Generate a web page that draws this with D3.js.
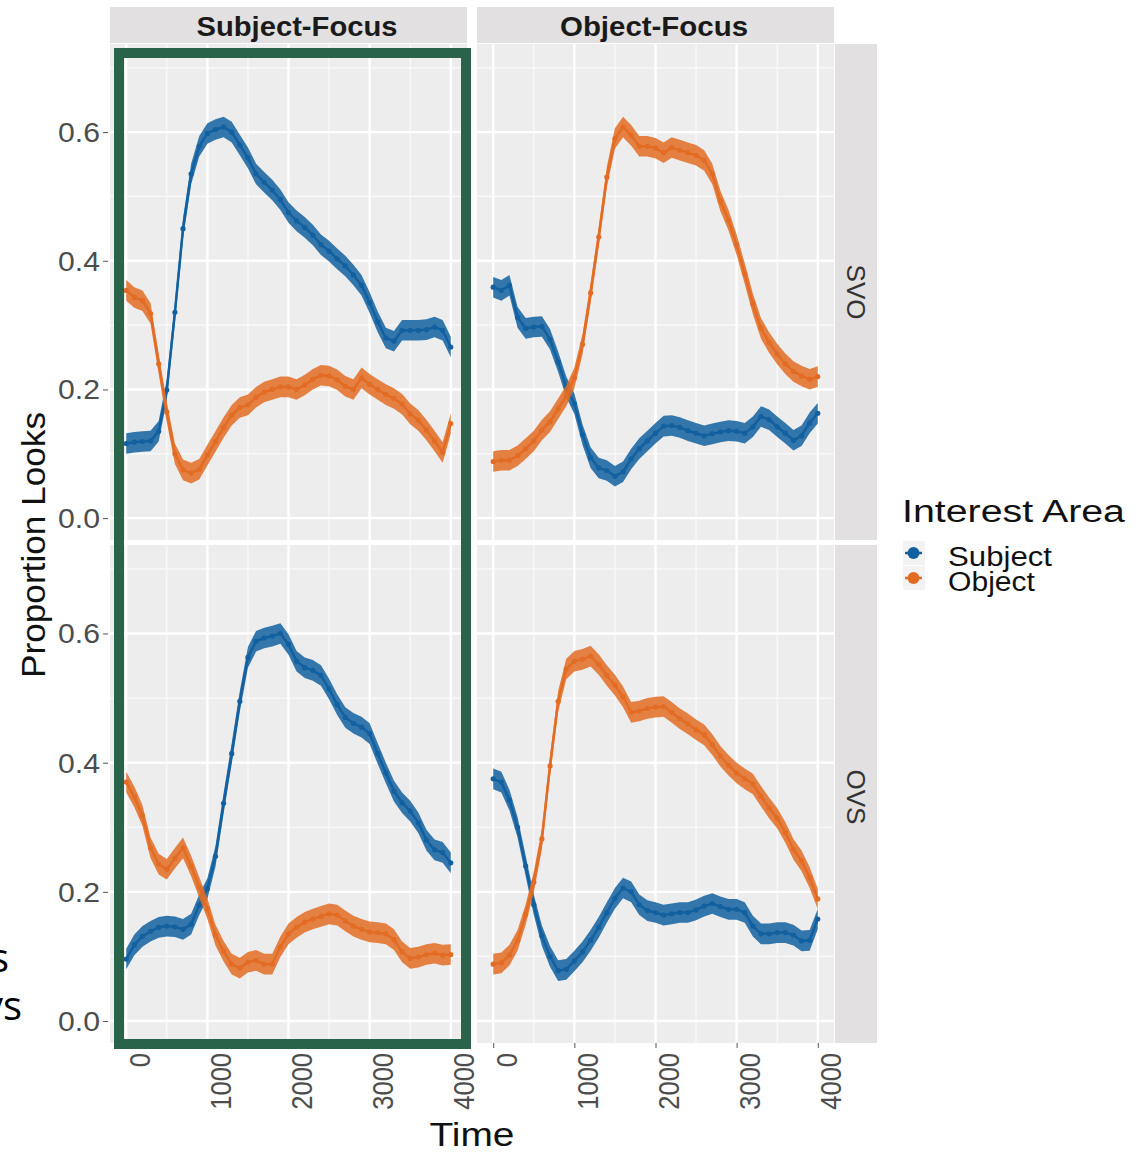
<!DOCTYPE html>
<html>
<head>
<meta charset="utf-8">
<script src="https://cdn.jsdelivr.net/npm/d3@7"></script>
<style>
  body { margin: 0; background: #fff; }
</style>
</head>
<body>
<div id="chart"></div>
<script>
// ---- data (proportion of looks every 100 ms) ----
const timeMs = [0, 100, 200, 300, 400, 500, 600, 700, 800, 900, 1000, 1100, 1200, 1300, 1400, 1500, 1600, 1700, 1800, 1900, 2000,
  2100, 2200, 2300, 2400, 2500, 2600, 2700, 2800, 2900, 3000, 3100, 3200, 3300, 3400, 3500, 3600, 3700, 3800, 3900, 4000];
const focusLevels = ["Subject-Focus", "Object-Focus"];
const orderLevels = ["SVO", "OVS"];
const areaLevels = ["Subject", "Object"];
const yTicks = [0, 0.2, 0.4, 0.6];
const xTicks = [0, 1000, 2000, 3000, 4000];
const yMinor = [0.1, 0.3, 0.5, 0.7];
const xMinor = [500, 1500, 2500, 3500];
const bandSE = 0.016;

const svoSubjFocusSubject = [0.116, 0.118, 0.119, 0.120, 0.135, 0.199, 0.320, 0.450, 0.535, 0.578, 0.598, 0.604, 0.608, 0.600, 0.580, 0.560, 0.535, 0.522, 0.510, 0.495, 0.475,
  0.462, 0.452, 0.440, 0.425, 0.415, 0.403, 0.392, 0.378, 0.362, 0.335, 0.305, 0.280, 0.275, 0.292, 0.292, 0.292, 0.293, 0.297, 0.292, 0.266];
const svoSubjFocusObject = [0.354, 0.343, 0.338, 0.318, 0.240, 0.165, 0.100, 0.075, 0.070, 0.076, 0.098, 0.119, 0.141, 0.160, 0.172, 0.176, 0.188, 0.196, 0.200, 0.204, 0.204,
  0.200, 0.207, 0.216, 0.222, 0.221, 0.215, 0.205, 0.200, 0.218, 0.208, 0.200, 0.192, 0.186, 0.177, 0.162, 0.152, 0.137, 0.120, 0.102, 0.147];
const svoObjFocusSubject = [0.359, 0.354, 0.362, 0.312, 0.295, 0.297, 0.298, 0.278, 0.243, 0.204, 0.178, 0.130, 0.094, 0.078, 0.074, 0.065, 0.072, 0.092, 0.108, 0.120, 0.132,
  0.143, 0.144, 0.141, 0.136, 0.132, 0.128, 0.131, 0.134, 0.136, 0.135, 0.132, 0.142, 0.158, 0.153, 0.142, 0.132, 0.121, 0.128, 0.148, 0.163];
const svoObjFocusObject = [0.088, 0.090, 0.090, 0.097, 0.108, 0.120, 0.137, 0.150, 0.170, 0.190, 0.218, 0.270, 0.350, 0.437, 0.530, 0.590, 0.608, 0.595, 0.578, 0.578, 0.575,
  0.568, 0.576, 0.572, 0.568, 0.564, 0.556, 0.535, 0.493, 0.463, 0.425, 0.380, 0.333, 0.295, 0.273, 0.255, 0.240, 0.228, 0.221, 0.216, 0.220];
const ovsSubjFocusSubject = [0.096, 0.118, 0.131, 0.139, 0.145, 0.147, 0.146, 0.142, 0.150, 0.180, 0.205, 0.255, 0.337, 0.414, 0.495, 0.563, 0.588, 0.593, 0.596, 0.600, 0.583,
  0.557, 0.547, 0.543, 0.535, 0.514, 0.490, 0.470, 0.461, 0.455, 0.445, 0.414, 0.384, 0.356, 0.338, 0.325, 0.307, 0.280, 0.265, 0.261, 0.245];
const ovsSubjFocusObject = [0.370, 0.347, 0.318, 0.268, 0.243, 0.235, 0.252, 0.268, 0.240, 0.207, 0.174, 0.133, 0.108, 0.088, 0.082, 0.091, 0.094, 0.088, 0.088, 0.115, 0.135,
  0.145, 0.153, 0.158, 0.162, 0.166, 0.164, 0.155, 0.147, 0.142, 0.138, 0.137, 0.135, 0.126, 0.107, 0.097, 0.099, 0.103, 0.105, 0.102, 0.103];
const ovsObjFocusSubject = [0.375, 0.370, 0.342, 0.300, 0.240, 0.180, 0.132, 0.100, 0.078, 0.080, 0.093, 0.107, 0.125, 0.145, 0.168, 0.190, 0.206, 0.200, 0.180, 0.171, 0.168,
  0.164, 0.166, 0.168, 0.168, 0.172, 0.178, 0.182, 0.177, 0.173, 0.173, 0.168, 0.147, 0.135, 0.135, 0.137, 0.137, 0.133, 0.124, 0.125, 0.158];
const ovsObjFocusObject = [0.088, 0.090, 0.102, 0.125, 0.165, 0.215, 0.282, 0.395, 0.495, 0.545, 0.557, 0.560, 0.565, 0.552, 0.535, 0.520, 0.502, 0.478, 0.480, 0.484, 0.486,
  0.487, 0.478, 0.468, 0.460, 0.451, 0.443, 0.428, 0.410, 0.396, 0.384, 0.375, 0.367, 0.348, 0.330, 0.314, 0.292, 0.266, 0.248, 0.222, 0.189];

const series = [
  { order: "SVO", focus: "Subject-Focus", area: "Subject", values: svoSubjFocusSubject },
  { order: "SVO", focus: "Subject-Focus", area: "Object", values: svoSubjFocusObject },
  { order: "SVO", focus: "Object-Focus", area: "Subject", values: svoObjFocusSubject },
  { order: "SVO", focus: "Object-Focus", area: "Object", values: svoObjFocusObject },
  { order: "OVS", focus: "Subject-Focus", area: "Subject", values: ovsSubjFocusSubject },
  { order: "OVS", focus: "Subject-Focus", area: "Object", values: ovsSubjFocusObject },
  { order: "OVS", focus: "Object-Focus", area: "Subject", values: ovsObjFocusSubject },
  { order: "OVS", focus: "Object-Focus", area: "Object", values: ovsObjFocusObject }
];

// ---- layout ----
const width = 1145;
const height = 1152;
const colLeft = [110, 477];
const panelW = 357;
const rowTop = [44, 545];
const rowBottom = [540, 1043];
const stripTop = 7;
const stripRight = 835;

const svg = d3.select("#chart").append("svg")
  .attr("width", width)
  .attr("height", height)
  .style("font-family", "'Liberation Sans', Arial, sans-serif");

const x = focusLevels.map((f, i) => d3.scaleLinear().domain([-200, 4200]).range([colLeft[i], colLeft[i] + panelW]));
const y = orderLevels.map((o, i) => d3.scaleLinear().domain([-0.034, 0.737]).range([rowBottom[i], rowTop[i]]));
const color = d3.scaleOrdinal().domain(areaLevels).range(["#12609f", "#e36c25"]);

// panels: background + grid
orderLevels.forEach((o, r) => {
  focusLevels.forEach((f, c) => {
    const g = svg.append("g");
    g.append("rect")
      .attr("x", colLeft[c])
      .attr("y", rowTop[r])
      .attr("width", panelW)
      .attr("height", rowBottom[r] - rowTop[r])
      .style("fill", "#ededed");

    g.selectAll(".ym").data(yMinor).enter().append("line")
      .attr("x1", colLeft[c]).attr("x2", colLeft[c] + panelW)
      .attr("y1", (d) => y[r](d)).attr("y2", (d) => y[r](d))
      .style("stroke", "#fafafa").style("stroke-width", 1.2);
    g.selectAll(".xm").data(xMinor).enter().append("line")
      .attr("y1", rowTop[r]).attr("y2", rowBottom[r])
      .attr("x1", (d) => x[c](d)).attr("x2", (d) => x[c](d))
      .style("stroke", "#fafafa").style("stroke-width", 1.2);
    g.selectAll(".yM").data(yTicks).enter().append("line")
      .attr("x1", colLeft[c]).attr("x2", colLeft[c] + panelW)
      .attr("y1", (d) => y[r](d)).attr("y2", (d) => y[r](d))
      .style("stroke", "#fff").style("stroke-width", 2.4);
    g.selectAll(".xM").data(xTicks).enter().append("line")
      .attr("y1", rowTop[r]).attr("y2", rowBottom[r])
      .attr("x1", (d) => x[c](d)).attr("x2", (d) => x[c](d))
      .style("stroke", "#fff").style("stroke-width", 2.4);
  });
});

// series: error band, line, points
series.forEach((s) => {
  const r = orderLevels.indexOf(s.order);
  const c = focusLevels.indexOf(s.focus);
  const pts = timeMs.map((t, i) => ({ t: t, v: s.values[i] }));
  const col = color(s.area);
  const g = svg.append("g");

  g.append("path")
    .datum(pts)
    .attr("d", d3.area()
      .x((d) => x[c](d.t))
      .y0((d) => y[r](d.v - bandSE))
      .y1((d) => y[r](d.v + bandSE)))
    .style("fill", col)
    .style("opacity", 0.85);

  g.append("path")
    .datum(pts)
    .attr("d", d3.line().x((d) => x[c](d.t)).y((d) => y[r](d.v)))
    .style("fill", "none")
    .style("stroke", col)
    .style("stroke-width", 2.5);

  g.selectAll("circle").data(pts).enter().append("circle")
    .attr("cx", (d) => x[c](d.t))
    .attr("cy", (d) => y[r](d.v))
    .attr("r", 2.6)
    .style("fill", col);
});

// strips
focusLevels.forEach((f, c) => {
  svg.append("rect")
    .attr("x", colLeft[c]).attr("y", stripTop)
    .attr("width", panelW).attr("height", rowTop[0] - stripTop - 1)
    .style("fill", "#e2e0e0");
});
const stripLabelX = [297, 654];
const stripLabelW = [201, 188];
focusLevels.forEach((f, c) => {
  svg.append("text")
    .attr("x", stripLabelX[c]).attr("y", 36)
    .attr("text-anchor", "middle")
    .attr("textLength", stripLabelW[c])
    .attr("lengthAdjust", "spacingAndGlyphs")
    .style("font-size", "27px").style("font-weight", "bold").style("fill", "#1a1a1a")
    .text(f);
});
const rowLabelY = [292, 797];
orderLevels.forEach((o, r) => {
  svg.append("rect")
    .attr("x", stripRight).attr("y", rowTop[r])
    .attr("width", 42).attr("height", rowBottom[r] - rowTop[r])
    .style("fill", "#e2e0e0");
  svg.append("text")
    .attr("transform", `translate(856,${rowLabelY[r]}) rotate(90)`)
    .attr("text-anchor", "middle")
    .attr("dy", "0.36em")
    .style("font-size", "26px").style("fill", "#333")
    .text(o);
});

// y axes
orderLevels.forEach((o, r) => {
  const ax = svg.append("g")
    .attr("transform", `translate(${colLeft[0] - 2},0)`)
    .call(d3.axisLeft(y[r]).tickValues(yTicks).tickSize(5).tickFormat(d3.format(".1f")));
  ax.select(".domain").remove();
  ax.selectAll(".tick line").style("stroke", "#555");
  ax.selectAll(".tick text")
    .attr("x", -8)
    .attr("dy", "0.35em")
    .attr("textLength", 42)
    .attr("lengthAdjust", "spacingAndGlyphs")
    .style("font-size", "27px")
    .style("font-family", "'Liberation Sans', Arial, sans-serif")
    .style("fill", "#4d4d4d");
});

// x axes
focusLevels.forEach((f, c) => {
  const ax = svg.append("g")
    .attr("transform", `translate(0,${rowBottom[1]})`)
    .call(d3.axisBottom(x[c]).tickValues(xTicks).tickSize(5).tickFormat(d3.format("d")));
  ax.select(".domain").remove();
  ax.selectAll(".tick line").style("stroke", "#555");
  ax.selectAll(".tick text")
    .attr("x", 0).attr("y", 0).attr("dy", 0)
    .attr("text-anchor", "end")
    .attr("transform", "translate(23,10) scale(1.19,1) rotate(-90)")
    .style("font-size", "25.5px")
    .style("font-family", "'Liberation Sans', Arial, sans-serif")
    .style("fill", "#4d4d4d");
});

// axis titles
svg.append("text")
  .attr("transform", "translate(45,545) rotate(-90)")
  .attr("text-anchor", "middle")
  .attr("textLength", 266)
  .attr("lengthAdjust", "spacingAndGlyphs")
  .style("font-size", "34px").style("fill", "#111")
  .text("Proportion Looks");
svg.append("text")
  .attr("x", 472).attr("y", 1146)
  .attr("text-anchor", "middle")
  .attr("textLength", 85)
  .attr("lengthAdjust", "spacingAndGlyphs")
  .style("font-size", "33px").style("fill", "#111")
  .text("Time");

// legend
svg.append("text")
  .attr("x", 902).attr("y", 522)
  .attr("textLength", 223)
  .attr("lengthAdjust", "spacingAndGlyphs")
  .style("font-size", "31px").style("fill", "#111")
  .text("Interest Area");
const keyY = [553, 578];
const keyLabelW = [104, 87];
areaLevels.forEach((a, i) => {
  svg.append("rect")
    .attr("x", 903).attr("y", keyY[i] - 12)
    .attr("width", 22).attr("height", 24)
    .style("fill", "#f3f3f3");
  svg.append("line")
    .attr("x1", 905).attr("x2", 922)
    .attr("y1", keyY[i]).attr("y2", keyY[i])
    .style("stroke", color(a)).style("stroke-width", 2.5);
  svg.append("circle")
    .attr("cx", 913.5).attr("cy", keyY[i]).attr("r", 6)
    .style("fill", color(a));
  svg.append("text")
    .attr("x", 948).attr("y", keyY[i] + 13)
    .attr("textLength", keyLabelW[i])
    .attr("lengthAdjust", "spacingAndGlyphs")
    .style("font-size", "27px").style("fill", "#111")
    .text(a);
});

// clipped words from the slide behind the figure
svg.append("text")
  .attr("x", 9).attr("y", 972)
  .attr("text-anchor", "end")
  .style("font-size", "40px").style("font-family", "'Open Sans', sans-serif").style("fill", "#000")
  .text("s");
svg.append("text")
  .attr("x", 22).attr("y", 1020)
  .attr("text-anchor", "end")
  .style("font-size", "40px").style("font-family", "'Open Sans', sans-serif").style("fill", "#000")
  .text("ys");

// highlight box around Subject-Focus column
svg.append("rect")
  .attr("x", 119).attr("y", 53)
  .attr("width", 347).attr("height", 991)
  .style("fill", "none")
  .style("stroke", "#28634a")
  .style("stroke-width", 10);
</script>
</body>
</html>
